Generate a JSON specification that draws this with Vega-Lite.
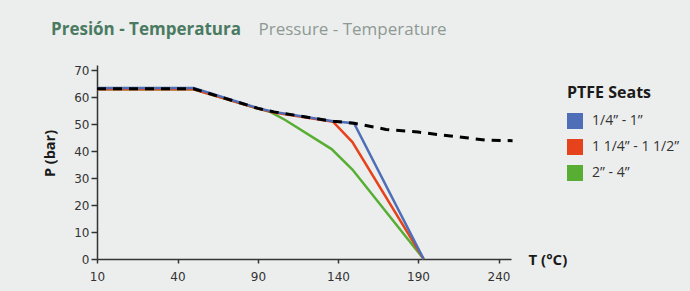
{
  "$schema": "https://vega.github.io/schema/vega-lite/v6.json",
  "autosize": {"type": "none"},
  "width": 414,
  "height": 194,
  "padding": {"left": 97, "top": 65, "right": 179, "bottom": 32},
  "background": "#eceeed",
  "title": {
    "text": "Presión - Temperatura",
    "subtitle": "\u200b\u00a0\u00a0\u00a0\u00a0\u00a0\u00a0\u00a0\u00a0\u00a0\u00a0\u00a0\u00a0\u00a0\u00a0\u00a0\u00a0\u00a0\u00a0\u00a0\u00a0\u00a0\u00a0\u00a0\u00a0\u00a0\u00a0\u00a0\u00a0\u00a0\u00a0\u00a0\u00a0\u00a0\u00a0\u00a0\u00a0\u00a0\u00a0\u00a0\u00a0\u00a0\u00a0\u00a0\u00a0\u00a0\u00a0\u00a0Pressure - Temperature",
    "anchor": "start",
    "frame": "group",
    "dx": -46,
    "dy": -21,
    "font": "Open Sans",
    "fontSize": 17,
    "fontWeight": "bold",
    "color": "#4b7a62",
    "subtitleFont": "Open Sans",
    "subtitleFontSize": 17,
    "subtitleFontWeight": "normal",
    "subtitleColor": "#8e9994",
    "subtitlePadding": -17
  },
  "datasets": {
    "seats": [
      {"serie": "2” - 4”", "T": 10, "P": 63},
      {"serie": "2” - 4”", "T": 50, "P": 63},
      {"serie": "2” - 4”", "T": 90, "P": 55.8},
      {"serie": "2” - 4”", "T": 98, "P": 54.5},
      {"serie": "2” - 4”", "T": 107, "P": 51.6},
      {"serie": "2” - 4”", "T": 136, "P": 40.8},
      {"serie": "2” - 4”", "T": 149, "P": 33.2},
      {"serie": "2” - 4”", "T": 193.5, "P": 0},
      {"serie": "1 1/4” - 1 1/2”", "T": 10, "P": 63},
      {"serie": "1 1/4” - 1 1/2”", "T": 50, "P": 63},
      {"serie": "1 1/4” - 1 1/2”", "T": 90, "P": 55.8},
      {"serie": "1 1/4” - 1 1/2”", "T": 100, "P": 54.4},
      {"serie": "1 1/4” - 1 1/2”", "T": 137, "P": 50.9},
      {"serie": "1 1/4” - 1 1/2”", "T": 149, "P": 43.4},
      {"serie": "1 1/4” - 1 1/2”", "T": 193.5, "P": 0},
      {"serie": "1/4” - 1”", "T": 10, "P": 63.5},
      {"serie": "1/4” - 1”", "T": 50, "P": 63.5},
      {"serie": "1/4” - 1”", "T": 90, "P": 56},
      {"serie": "1/4” - 1”", "T": 100, "P": 54.6},
      {"serie": "1/4” - 1”", "T": 137, "P": 51.1},
      {"serie": "1/4” - 1”", "T": 150, "P": 50.4},
      {"serie": "1/4” - 1”", "T": 193.5, "P": 0}
    ],
    "limit": [
      {"T": 10, "P": 63.2},
      {"T": 50, "P": 63.2},
      {"T": 90, "P": 55.9},
      {"T": 100, "P": 54.6},
      {"T": 137, "P": 51.1},
      {"T": 150, "P": 50.4},
      {"T": 170, "P": 48.1},
      {"T": 190, "P": 47.1},
      {"T": 205, "P": 46},
      {"T": 220, "P": 45},
      {"T": 232, "P": 44.1},
      {"T": 249, "P": 43.9}
    ]
  },
  "encoding": {
    "x": {
      "field": "T", "type": "quantitative",
      "scale": {"domain": [10, 40, 90, 140, 190, 240, 248], "range": [0, 80.5, 161, 241, 321, 401.5, 414], "nice": false, "zero": false},
      "axis": {
        "values": [10, 40, 90, 140, 190, 240],
        "labelOverlap": false, "labelFlush": false,
        "title": "T (°C)",
        "titleX": 431, "titleY": 0, "titleAlign": "left", "titleBaseline": "middle", "titleAngle": 0,
        "titleFont": "Open Sans", "titleFontSize": 15, "titleFontWeight": "bold", "titleColor": "#1a1a1a",
        "grid": false, "tickSize": 4, "labelPadding": 8,
        "labelFont": "DejaVu Sans", "labelFontSize": 12, "labelColor": "#333333",
        "domainColor": "#333333", "domainWidth": 1.5, "tickColor": "#333333", "tickWidth": 1.5
      }
    },
    "y": {
      "field": "P", "type": "quantitative",
      "scale": {"domain": [0, 72], "nice": false, "zero": true},
      "axis": {
        "values": [0, 10, 20, 30, 40, 50, 60, 70],
        "tickCount": 8,
        "labelOverlap": false, "labelFlush": false,
        "title": "P (bar)",
        "titleX": -47, "titleY": 88, "titleAlign": "center", "titleBaseline": "middle", "titleAngle": -90,
        "titleFont": "Open Sans", "titleFontSize": 14.5, "titleFontWeight": "bold", "titleColor": "#1a1a1a",
        "grid": false, "tickSize": 6, "labelPadding": 2,
        "labelFont": "DejaVu Sans", "labelFontSize": 12, "labelColor": "#333333",
        "domainColor": "#333333", "domainWidth": 1.5, "tickColor": "#333333", "tickWidth": 1.5
      }
    }
  },
  "layer": [
    {
      "data": {"name": "seats"},
      "mark": {"type": "line", "strokeWidth": 2.5},
      "encoding": {
        "color": {
          "field": "serie", "type": "nominal",
          "scale": {"domain": ["1/4” - 1”", "1 1/4” - 1 1/2”", "2” - 4”"], "range": ["#4e6fb8", "#e6421b", "#57ae33"]},
          "legend": {
            "title": "PTFE Seats",
            "orient": "none", "legendX": 470, "legendY": 20,
            "padding": 0,
            "titleFont": "Open Sans", "titleFontSize": 16, "titleFontWeight": "bold", "titleColor": "#1a1a1a",
            "titlePadding": 12,
            "labelFont": "Open Sans", "labelFontSize": 14, "labelColor": "#333333", "labelOffset": 9,
            "symbolType": "square", "symbolSize": 256, "rowPadding": 10,
            "encode": {"symbols": {"update": {"fill": {"scale": "color", "field": "value"}, "strokeWidth": {"value": 0}, "opacity": {"value": 1}, "fillOpacity": {"value": 1}}}}
          }
        },
        "order": {"field": "T", "type": "quantitative"}
      }
    },
    {
      "data": {"name": "limit"},
      "mark": {"type": "line", "color": "black", "strokeWidth": 3, "strokeDash": [9, 7]},
      "encoding": {}
    }
  ],
  "config": {"view": {"stroke": null}}
}
